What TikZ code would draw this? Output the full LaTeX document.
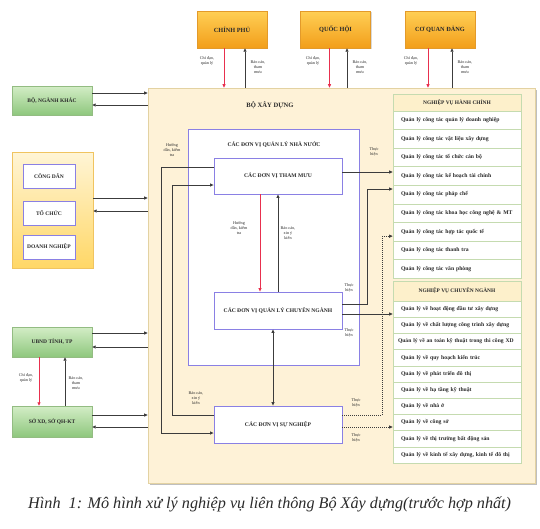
\documentclass[tikz,border=0pt]{standalone}
\usepackage{fontspec}
\setmainfont{Liberation Serif}
\usetikzlibrary{arrows.meta,shadows,calc}

\definecolor{orT}{HTML}{FFCF55}
\definecolor{orB}{HTML}{F29E1A}
\definecolor{orD}{HTML}{E39A2A}
\definecolor{grT}{HTML}{D3EDC6}
\definecolor{grB}{HTML}{8EC77D}
\definecolor{grD}{HTML}{93BC82}
\definecolor{ylT}{HTML}{FFF5D6}
\definecolor{ylB}{HTML}{FFD766}
\definecolor{ylD}{HTML}{F0C460}
\definecolor{cream}{HTML}{FEF2D7}
\definecolor{creamD}{HTML}{E3D2A2}
\definecolor{purp}{HTML}{8A80E4}
\definecolor{lgreen}{HTML}{C5DBB0}
\definecolor{hdr}{HTML}{FDF0CB}
\definecolor{arrc}{HTML}{3C3C3C}
\definecolor{redc}{HTML}{E8304E}
\definecolor{txt}{HTML}{2A2A2A}

\tikzset{
  shd/.style={drop shadow={shadow xshift=1.2pt,shadow yshift=-1.2pt,opacity=0.3}},
  obox/.style={draw=orD, top color=orT, bottom color=orB, minimum width=70pt, minimum height=37pt,
    font=\fontsize{6.3}{7}\selectfont\bfseries, text=txt, shd},
  gbox/.style={draw=grD, top color=grT, bottom color=grB, minimum width=80pt,
    font=\fontsize{5.5}{6}\selectfont\bfseries, text=txt, shd},
  wbox/.style={draw=purp, fill=white, line width=0.8pt, minimum width=52pt, minimum height=24pt,
    font=\fontsize{5.5}{6}\selectfont\bfseries, text=txt},
  cbox/.style={draw=purp, fill=white, line width=0.8pt, minimum width=128pt,
    font=\fontsize{5.6}{6}\selectfont\bfseries, text=txt},
  row/.style={draw=lgreen, fill=white, line width=0.6pt, text width=118pt, inner xsep=5pt, inner ysep=0pt,
    align=left, font=\fontsize{5.7}{6.2}\selectfont\bfseries, text=txt, execute at begin node={\hspace*{3pt}}},
  hrow/.style={draw=lgreen, fill=hdr, line width=0.6pt, minimum width=128pt, inner ysep=0pt,
    font=\fontsize{5.4}{6}\selectfont\bfseries, text=txt},
  arr/.style={draw=arrc, line width=0.8pt, -{Triangle[length=3.5pt,width=3pt]}},
  darr/.style={draw=arrc, line width=0.8pt, {Triangle[length=3.5pt,width=3pt]}-{Triangle[length=3.5pt,width=3pt]}},
  rarr/.style={draw=redc, line width=0.8pt, -{Triangle[length=3.5pt,width=3pt]}},
  dotarr/.style={arr, dash pattern=on 1pt off 1pt},
  lbl/.style={font=\fontsize{4.2}{4.7}\selectfont, text=txt, align=center, inner sep=0pt},
}

\begin{document}
\begin{tikzpicture}[x=1pt,y=-1pt]
\useasboundingbox (0,0) rectangle (540,528);

% main box
\node[draw=creamD, fill=cream, line width=0.6pt, minimum width=387pt, minimum height=395pt,
  drop shadow={shadow xshift=2.2pt,shadow yshift=-2.2pt,opacity=0.5}] (main) at (341.5,285.5) {};
\node[font=\fontsize{6.6}{7}\selectfont\bfseries, text=txt] (bxd) at (270,105) {BỘ XÂY DỰNG};

% top boxes
\node[obox] (cp) at (232,29.5) {CHÍNH PHỦ};
\node[obox] (qh) at (335.5,29.5) {QUỐC HỘI};
\node[obox] (cqd) at (440,29.5) {CƠ QUAN ĐẢNG};

\draw[rarr] ([xshift=-8pt]cp.south) -- ([xshift=-8pt]cp.south |- main.north);
\draw[arr] ([xshift=13pt]cp.south |- main.north) -- ([xshift=13pt]cp.south);
\draw[rarr] ([xshift=-6pt]qh.south) -- ([xshift=-6pt]qh.south |- main.north);
\draw[arr] ([xshift=11.5pt]qh.south |- main.north) -- ([xshift=11.5pt]qh.south);
\draw[rarr] ([xshift=-12pt]cqd.south) -- ([xshift=-12pt]cqd.south |- main.north);
\draw[arr] ([xshift=12pt]cqd.south |- main.north) -- ([xshift=12pt]cqd.south);

\node[lbl] (l1) at (207,61) {Chỉ đạo,\\quản lý};
\node[lbl] (l2) at (258,67) {Báo cáo,\\tham\\mưu};
\node[lbl] (l3) at (313,61) {Chỉ đạo,\\quản lý};
\node[lbl] (l4) at (360,67) {Báo cáo,\\tham\\mưu};
\node[lbl] (l5) at (411,61) {Chỉ đạo,\\quản lý};
\node[lbl] (l6) at (465,67) {Báo cáo,\\tham\\mưu};

% left column
\node[gbox, minimum height=29pt] (bnk) at (52,100.5) {BỘ, NGÀNH KHÁC};
\draw[arr] ([yshift=7.5pt]bnk.east) -- ([yshift=7.5pt]bnk.east -| main.west);
\draw[arr] ([yshift=-4.5pt]bnk.east -| main.west) -- ([yshift=-4.5pt]bnk.east);

\node[draw=ylD, top color=ylT, bottom color=ylB, minimum width=81pt, minimum height=116pt, shd] (grp) at (52.5,210) {};
\node[wbox] (cd) at (49,176) {CÔNG DÂN};
\node[wbox] (tc) at (49,213) {TỔ CHỨC};
\node[wbox] (dn) at (49,247) {DOANH NGHIỆP};
\draw[arr] ([yshift=12pt]grp.east) -- ([yshift=12pt]grp.east -| main.west);
\draw[arr] ([yshift=-1pt]grp.east -| main.west) -- ([yshift=-1pt]grp.east);

\node[gbox, minimum height=30pt] (ubnd) at (52,342) {UBND TỈNH, TP};
\node[gbox, minimum height=31pt] (so) at (52,421.5) {SỞ XD, SỞ QH-KT};
\draw[arr] ([yshift=9pt]ubnd.east) -- ([yshift=9pt]ubnd.east -| main.west);
\draw[arr] ([yshift=-5pt]ubnd.east -| main.west) -- ([yshift=-5pt]ubnd.east);
\draw[arr] ([yshift=6.5pt]so.east) -- ([yshift=6.5pt]so.east -| main.west);
\draw[arr] ([yshift=-5.5pt]so.east -| main.west) -- ([yshift=-5.5pt]so.east);
\draw[rarr] ([xshift=-13pt]ubnd.south) -- ([xshift=-13pt]so.north);
\draw[arr] ([xshift=13pt]so.north) -- ([xshift=13pt]ubnd.south);
\node[lbl] (l7) at (26,378) {Chỉ đạo,\\quản lý};
\node[lbl] (l8) at (76,383) {Báo cáo,\\tham\\mưu};

% center
\node[draw=purp, fill=white, line width=0.8pt, minimum width=171pt, minimum height=236pt] (qlnn) at (273.5,247) {};
\node[font=\fontsize{5.6}{6}\selectfont\bfseries, text=txt] (qlnnt) at (274,145) {CÁC ĐƠN VỊ QUẢN LÝ NHÀ NƯỚC};
\node[cbox, minimum height=36pt] (tm) at (278,176) {CÁC ĐƠN VỊ THAM MƯU};
\node[cbox, minimum height=37pt] (cn) at (278,310.5) {CÁC ĐƠN VỊ QUẢN LÝ CHUYÊN NGÀNH};
\node[cbox, minimum height=37pt] (sn) at (278,424.5) {CÁC ĐƠN VỊ SỰ NGHIỆP};

\draw[rarr] ([xshift=-18pt]tm.south) -- ([xshift=-18pt]cn.north);
\draw[arr] (cn.north) -- (tm.south);
\node[lbl] (l9) at (239,228) {Hướng\\dẫn, kiểm\\tra};
\node[lbl] (l10) at (288,233) {Báo cáo,\\xin ý\\kiến};
\draw[darr] ([xshift=-5pt]cn.south) -- ([xshift=-5pt]sn.north);

\draw[arr] ([yshift=9pt]tm.west) -- ++(-52,0) |- ([yshift=-8.5pt]sn.west);
\draw[arr] ([yshift=9.5pt]sn.west) -- ++(-41,0) |- ([yshift=-9pt]tm.west);
\node[lbl] (l11) at (172,150) {Hướng\\dẫn, kiểm\\tra};
\node[lbl] (l12) at (196,398) {Báo cáo,\\xin ý\\kiến};

% right lists
\node[hrow, minimum height=17pt] (hc0) at (457,102.5) {NGHIỆP VỤ HÀNH CHÍNH};
\node[row, minimum height=18.56pt] (hc1) at (457,120.28) {Quản lý công tác quản lý doanh nghiệp};
\node[row, minimum height=18.56pt] (hc2) at (457,138.84) {Quản lý công tác vật liệu xây dựng};
\node[row, minimum height=18.56pt] (hc3) at (457,157.40) {Quản lý công tác tổ chức cán bộ};
\node[row, minimum height=18.56pt] (hc4) at (457,175.96) {Quản lý công tác kế hoạch tài chính};
\node[row, minimum height=18.56pt] (hc5) at (457,194.52) {Quản lý công tác pháp chế};
\node[row, minimum height=18.56pt] (hc6) at (457,213.08) {Quản lý công tác khoa học công nghệ \& MT};
\node[row, minimum height=18.56pt] (hc7) at (457,231.64) {Quản lý công tác hợp tác quốc tế};
\node[row, minimum height=18.56pt] (hc8) at (457,250.20) {Quản lý công tác thanh tra};
\node[row, minimum height=18.56pt] (hc9) at (457,268.76) {Quản lý công tác văn phòng};

\node[hrow, minimum height=20pt] (nc0) at (457,291) {NGHIỆP VỤ CHUYÊN NGÀNH};
\node[row, minimum height=16.2pt] (nc1) at (457,309.1) {Quản lý về hoạt động đầu tư xây dựng};
\node[row, minimum height=16.2pt] (nc2) at (457,325.3) {Quản lý về chất lượng công trình xây dựng};
\node[row, minimum height=16.2pt, inner xsep=2pt, text width=124pt, execute at begin node={}, font=\fontsize{5.6}{6}\selectfont\bfseries] (nc3) at (457,341.5) {Quản lý về an toàn kỹ thuật trong thi công XD};
\node[row, minimum height=16.2pt] (nc4) at (457,357.7) {Quản lý về quy hoạch kiến trúc};
\node[row, minimum height=16.2pt] (nc5) at (457,373.9) {Quản lý về phát triển đô thị};
\node[row, minimum height=16.2pt] (nc6) at (457,390.1) {Quản lý về hạ tầng kỹ thuật};
\node[row, minimum height=16.2pt] (nc7) at (457,406.3) {Quản lý về nhà ở};
\node[row, minimum height=16.2pt] (nc8) at (457,422.5) {Quản lý về công sở};
\node[row, minimum height=16.2pt] (nc9) at (457,438.7) {Quản lý về thị trường bất động sản};
\node[row, minimum height=16.2pt] (nc10) at (457,454.9) {Quản lý về kinh tế xây dựng, kinh tế đô thị};

% center -> right
\draw[arr] ([yshift=4pt]tm.east) -- ([yshift=4pt]tm.east -| hc4.west);
\draw[arr] ([yshift=6.5pt]cn.east) -- ++(25,0) |- ([yshift=5.5pt]hc5.west);
\draw[arr] ([yshift=-3.5pt]cn.east) -- ([yshift=-3.5pt]cn.east -| nc1.west);
\draw[dotarr] ([yshift=9.5pt]sn.east) -- ++(40,0) |- ([yshift=-4.5pt]hc7.west);
\draw[dotarr] ([yshift=-2.5pt]sn.east) -- ([yshift=-2.5pt]sn.east -| nc8.west);
\node[lbl] (t1) at (374,152) {Thực\\hiện};
\node[lbl] (t2) at (349,288) {Thực\\hiện};
\node[lbl] (t3) at (349,333) {Thực\\hiện};
\node[lbl] (t4) at (356,403) {Thực\\hiện};
\node[lbl] (t5) at (356,438) {Thực\\hiện};

% caption
\node[font=\fontsize{16.2}{17}\selectfont\itshape, text=txt, anchor=base west, inner sep=0pt] (cap) at (28,508) {Hình\ \ 1: Mô hình xử lý nghiệp vụ liên thông Bộ Xây dựng(trước hợp nhất)};
\end{tikzpicture}
\end{document}
